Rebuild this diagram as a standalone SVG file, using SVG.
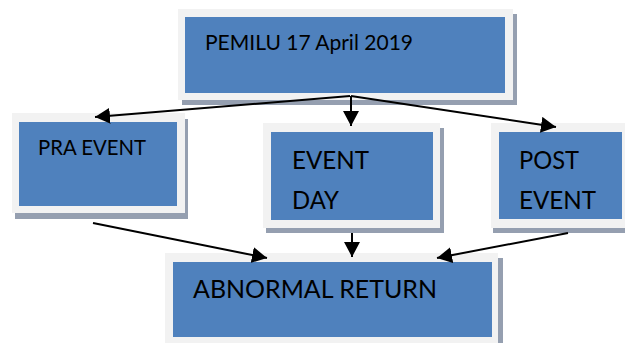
<svg xmlns="http://www.w3.org/2000/svg" width="625" height="343" viewBox="0 0 625 343">
<style>
.sh{fill:#959FB0}
.bd{fill:#F2F2F2}
.in{fill:#4F81BD}
text{font-family:Lato,"Open Sans","Liberation Sans",sans-serif;fill:#000}
.s{font-size:21px}
.l{font-size:25px}
.c{stroke:#000;stroke-width:2;fill:none;marker-end:url(#ah)}
</style>
<defs>
<marker id="ah" markerUnits="userSpaceOnUse" markerWidth="16" markerHeight="16" refX="15" refY="8" orient="auto" viewBox="0 0 16 16">
<path d="M0,0 L15,8 L0,16 z" fill="#000"/>
</marker>
</defs>
<rect width="625" height="343" fill="#fff"/>
<g id="pemilu">
<rect class="sh" x="182" y="14" width="335" height="91"/>
<rect class="bd" x="178" y="9" width="335" height="91"/>
<rect class="in" x="185" y="17" width="320" height="76"/>
<text class="s" x="205" y="50" textLength="208" lengthAdjust="spacingAndGlyphs">PEMILU 17 April 2019</text>
</g>
<g id="pra">
<rect class="sh" x="15" y="119" width="173" height="100"/>
<rect class="bd" x="12" y="113" width="173" height="100"/>
<rect class="in" x="19" y="122" width="158" height="84"/>
<text class="s" x="38" y="155" textLength="108" lengthAdjust="spacingAndGlyphs">PRA EVENT</text>
</g>
<g id="eventday">
<rect class="sh" x="266" y="128" width="178" height="105"/>
<rect class="bd" x="263" y="123" width="177" height="105"/>
<rect class="in" x="271" y="132" width="162" height="88"/>
<text class="l" x="292" y="169" textLength="77" lengthAdjust="spacingAndGlyphs">EVENT</text>
<text class="l" x="292" y="209" textLength="47" lengthAdjust="spacingAndGlyphs">DAY</text>
</g>
<g id="post">
<rect class="sh" x="493" y="128" width="132" height="105"/>
<rect class="bd" x="491" y="123" width="134" height="105"/>
<rect class="in" x="499" y="132" width="123" height="87"/>
<text class="l" x="519" y="169" textLength="60" lengthAdjust="spacingAndGlyphs">POST</text>
<text class="l" x="519" y="209" textLength="77" lengthAdjust="spacingAndGlyphs">EVENT</text>
</g>
<g id="abnormal">
<rect class="sh" x="169" y="258" width="334" height="90"/>
<rect class="bd" x="165" y="253" width="333" height="95"/>
<rect class="in" x="173" y="262" width="319" height="75"/>
<text class="l" x="193" y="298" textLength="244" lengthAdjust="spacingAndGlyphs">ABNORMAL RETURN</text>
</g>
<g id="connectors">
<path class="c" d="M350,96 L95,117"/>
<path class="c" d="M351,96 L351,126"/>
<path class="c" d="M351,96 L556,127"/>
<path class="c" d="M93,223 L267,258"/>
<path class="c" d="M352,233 L352,257"/>
<path class="c" d="M568,233 L437,258"/>
</g>
</svg>
